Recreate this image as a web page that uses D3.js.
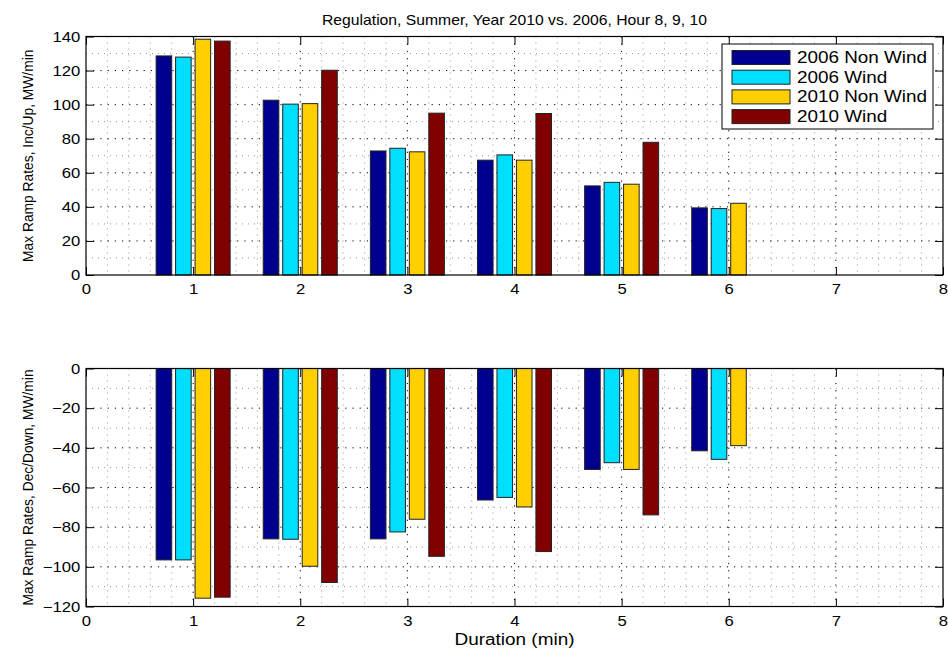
<!DOCTYPE html>
<html lang="en">
<head>
<meta charset="utf-8">
<style>
  body { margin: 0; background: #fff; font-family: "Liberation Sans", Arial, sans-serif; }
  svg text { fill: #000; font-family: "Liberation Sans", Arial, sans-serif; }
</style>
</head>
<body>
<script src="https://d3js.org/d3.v7.min.js"></script>
<script>
// data
var durations = [1, 2, 3, 4, 5, 6];
var seriesNames = ["2006 Non Wind", "2006 Wind", "2010 Non Wind", "2010 Wind"];
var seriesColors = ["#00008f", "#00dfff", "#ffcf00", "#800000"];

var up2006NonWind = [128.6, 102.6, 72.8, 67.4, 52.3, 39.4];
var up2006Wind    = [127.9, 100.3, 74.4, 70.5, 54.4, 39.0];
var up2010NonWind = [138.4, 100.6, 72.3, 67.4, 53.3, 42.1];
var up2010Wind    = [137.3, 120.2, 95.0, 94.8, 77.9, null];

var dn2006NonWind = [-96.5, -85.9, -85.9, -66.3, -50.9, -41.5];
var dn2006Wind    = [-96.5, -86.1, -82.4, -65.0, -47.5, -45.8];
var dn2010NonWind = [-115.8, -99.7, -76.0, -69.8, -50.9, -38.9];
var dn2010Wind    = [-115.3, -107.9, -94.7, -92.3, -73.8, null];

var xTicks = [0, 1, 2, 3, 4, 5, 6, 7, 8];
var upTicks = [0, 20, 40, 60, 80, 100, 120, 140];
var dnTicks = [-120, -100, -80, -60, -40, -20, 0];

var upSeries = [up2006NonWind, up2006Wind, up2010NonWind, up2010Wind];
var dnSeries = [dn2006NonWind, dn2006Wind, dn2010NonWind, dn2010Wind];

var width = 948, height = 649;
var left = 86, right = 943;
var sx = 1.15; // the original figure is a bit stretched sideways

var svg = d3.select("body").append("svg")
  .attr("width", width).attr("height", height);

var x = d3.scaleLinear().domain([0, 8]).range([left, right]);

// matlab style grouped bars: group width 4/5.5, bar 0.8 of slot
var slot = Math.min(0.8, 4 / 5.5) / 4;
var barW = slot * 0.8;

function noLabel() { return ""; }

function panel(top, bottom, domain, ticks, minorStep, series, label) {
  var y = d3.scaleLinear().domain(domain).range([bottom, top]);
  var g = svg.append("g");

  // minor grid
  var xMinor = d3.range(0, 8.001, 0.2).filter(function(d) { return Math.abs(d - Math.round(d)) > 1e-6; });
  var yMinor = d3.range(domain[0], domain[1] + 0.001, minorStep).filter(function(d) { return ticks.indexOf(d) < 0; });

  g.selectAll(".vminor").data(xMinor).enter().append("line")
    .attr("x1", function(d) { return x(d); }).attr("x2", function(d) { return x(d); })
    .attr("y1", top).attr("y2", bottom)
    .attr("stroke", "#777").attr("stroke-width", 0.8).attr("stroke-dasharray", "1,5");
  g.selectAll(".hminor").data(yMinor).enter().append("line")
    .attr("x1", left).attr("x2", right)
    .attr("y1", function(d) { return y(d); }).attr("y2", function(d) { return y(d); })
    .attr("stroke", "#777").attr("stroke-width", 0.8).attr("stroke-dasharray", "1,5");

  // major grid
  g.selectAll(".vmajor").data(xTicks.slice(1, -1)).enter().append("line")
    .attr("x1", function(d) { return x(d); }).attr("x2", function(d) { return x(d); })
    .attr("y1", top).attr("y2", bottom)
    .attr("stroke", "#000").attr("stroke-width", 1).attr("stroke-dasharray", "1.2,6");
  g.selectAll(".hmajor").data(ticks.slice(1, -1)).enter().append("line")
    .attr("x1", left).attr("x2", right)
    .attr("y1", function(d) { return y(d); }).attr("y2", function(d) { return y(d); })
    .attr("stroke", "#000").attr("stroke-width", 1).attr("stroke-dasharray", "1.2,6");

  // bars
  series.forEach(function(vals, si) {
    var off = (si - 1.5) * slot;
    g.selectAll(".bar" + si).data(durations.map(function(d, i) { return { d: d, v: vals[i] }; })
        .filter(function(p) { return p.v != null; }))
      .enter().append("rect")
      .attr("x", function(p) { return x(p.d + off - barW / 2); })
      .attr("width", function(p) { return x(barW) - x(0); })
      .attr("y", function(p) { return Math.min(y(p.v), y(0)); })
      .attr("height", function(p) { return Math.abs(y(p.v) - y(0)); })
      .attr("fill", seriesColors[si])
      .attr("stroke", "#222").attr("stroke-width", 1);
  });

  // axes, ticks inward
  var tl = 8;
  var ax = [];
  ax.push(g.append("g").attr("transform", "translate(" + left + ",0)")
    .call(d3.axisLeft(y).tickValues(ticks).tickSizeInner(-tl).tickSizeOuter(0).tickPadding(5)
      .tickFormat(function(d) { return d < 0 ? "\u2212" + Math.abs(d) : d; })));
  ax.push(g.append("g").attr("transform", "translate(" + right + ",0)")
    .call(d3.axisRight(y).tickValues(ticks).tickSizeInner(-tl).tickSizeOuter(0).tickFormat(noLabel)));
  ax.push(g.append("g").attr("transform", "translate(0," + bottom + ")")
    .call(d3.axisBottom(x).tickValues(xTicks).tickSizeInner(-tl).tickSizeOuter(0).tickPadding(9)));
  ax.push(g.append("g").attr("transform", "translate(0," + top + ")")
    .call(d3.axisTop(x).tickValues(xTicks).tickSizeInner(-tl).tickSizeOuter(0).tickFormat(noLabel)));
  ax.forEach(function(a) {
    a.select(".domain").remove();
    a.selectAll(".tick line").attr("stroke", "#000");
    a.selectAll(".tick text").attr("font-size", 14.5).attr("fill", "#000")
      .attr("transform", "scale(" + sx + ",1)");
  });

  g.append("rect").attr("x", left).attr("y", top)
    .attr("width", right - left).attr("height", bottom - top)
    .attr("fill", "none").attr("stroke", "#000").attr("stroke-width", 1.2);

  g.append("text")
    .attr("transform", "translate(29," + ((top + bottom) / 2) + ") rotate(-90)")
    .attr("text-anchor", "middle").attr("dominant-baseline", "middle")
    .attr("font-size", 13.8).text(label);

  return g;
}

panel(36.5, 275, [0, 140], upTicks, 10, upSeries, "Max Ramp Rates, Inc/Up, MW/min");
panel(368.5, 606.5, [-120, 0], dnTicks, 10, dnSeries, "Max Ramp Rates, Dec/Down, MW/min");

svg.append("text").attr("x", (left + right) / 2).attr("y", 25)
  .attr("text-anchor", "middle").attr("font-size", 14.5)
  .attr("textLength", 385).attr("lengthAdjust", "spacingAndGlyphs")
  .text("Regulation, Summer, Year 2010 vs. 2006, Hour 8, 9, 10");

svg.append("text").attr("x", (left + right) / 2).attr("y", 645)
  .attr("text-anchor", "middle").attr("font-size", 16)
  .attr("textLength", 120).attr("lengthAdjust", "spacingAndGlyphs")
  .text("Duration (min)");

// legend
var lg = svg.append("g").attr("transform", "translate(722,44)");
lg.append("rect").attr("width", 211).attr("height", 85)
  .attr("fill", "#fff").attr("stroke", "#000").attr("stroke-width", 1);
var rows = lg.selectAll(".row").data(seriesNames).enter().append("g")
  .attr("transform", function(d, i) { return "translate(0," + (13.5 + i * 19.7) + ")"; });
rows.append("rect").attr("x", 10).attr("y", -7).attr("width", 58).attr("height", 14)
  .attr("fill", function(d, i) { return seriesColors[i]; })
  .attr("stroke", "#222").attr("stroke-width", 1);
rows.append("g").attr("transform", "translate(75,0) scale(1.18,1)")
  .append("text").attr("x", 0).attr("y", 0).attr("dominant-baseline", "central")
  .attr("font-size", 16).text(function(d) { return d; });
</script>
</body>
</html>
